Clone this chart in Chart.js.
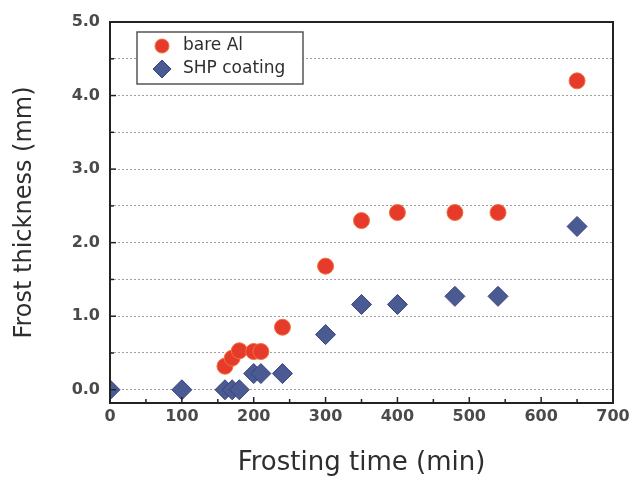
<!DOCTYPE html>
<html>
<head>
<meta charset="utf-8">
<script src="https://cdn.jsdelivr.net/npm/chart.js@4"></script>
<style>
  body { margin: 0; background: #fff; }
  canvas { display: block; }
</style>
</head>
<body>
<canvas id="frostChart" width="636" height="483"></canvas>
<script>
  // Frosting time (min) and frost thickness (mm) for each surface
  const bareTime = [160, 170, 180, 200, 210, 240, 300, 350, 400, 480, 540, 650];
  const bareThick = [0.32, 0.43, 0.53, 0.52, 0.52, 0.85, 1.68, 2.30, 2.41, 2.41, 2.41, 4.20];

  const shpTime = [0, 100, 160, 170, 180, 200, 210, 240, 300, 350, 400, 480, 540, 650];
  const shpThick = [0, 0, 0, 0, 0, 0.22, 0.22, 0.22, 0.75, 1.16, 1.16, 1.27, 1.27, 2.22];

  const xTickLabels = ['0', '100', '200', '300', '400', '500', '600', '700'];
  const yTickLabels = ['0.0', '1.0', '2.0', '3.0', '4.0', '5.0'];

  const toPoints = (xs, ys) => xs.map((x, i) => ({ x: x, y: ys[i] }));

  const FONT = 'DejaVu Sans';

  // keep markers inside the plot box
  const clipPlugin = {
    id: 'clipPlot',
    beforeDatasetsDraw(chart) {
      const { ctx, chartArea: a } = chart;
      ctx.save();
      ctx.beginPath();
      ctx.rect(a.left, a.top, a.right - a.left, a.bottom - a.top);
      ctx.clip();
    },
    afterDatasetsDraw(chart) {
      chart.ctx.restore();
    }
  };

  // box around the plot plus inward ticks, Origin style
  const framePlugin = {
    id: 'frame',
    afterDraw(chart) {
      const { ctx, chartArea: a, scales } = chart;
      const x = scales.x, y = scales.y;
      ctx.save();
      ctx.strokeStyle = '#222';
      ctx.lineWidth = 1.5;
      for (let v = 0; v <= 700; v += 50) {
        const px = x.getPixelForValue(v);
        const len = v % 100 === 0 ? 6 : 4;
        ctx.beginPath();
        ctx.moveTo(px, a.bottom);
        ctx.lineTo(px, a.bottom - len);
        ctx.stroke();
      }
      for (let v = 0; v <= 5; v += 0.5) {
        const py = y.getPixelForValue(v);
        const len = Number.isInteger(v) ? 6 : 4;
        ctx.beginPath();
        ctx.moveTo(a.left, py);
        ctx.lineTo(a.left + len, py);
        ctx.stroke();
      }
      ctx.lineWidth = 2;
      ctx.strokeRect(a.left, a.top, a.right - a.left, a.bottom - a.top);
      ctx.restore();
    }
  };

  // legend box in the upper left corner of the plot
  const boxLegend = {
    id: 'boxLegend',
    afterDatasetsDraw(chart) {
      const { ctx, chartArea: a } = chart;
      const bx = a.left + 27, by = a.top + 10;
      ctx.save();
      ctx.fillStyle = '#fff';
      ctx.fillRect(bx, by, 166, 52);
      ctx.strokeStyle = '#555';
      ctx.lineWidth = 1.5;
      ctx.strokeRect(bx, by, 166, 52);
      chart.data.datasets.forEach((ds, i) => {
        const cy = by + 14 + i * 23;
        const cx = bx + 25;
        ctx.fillStyle = ds.backgroundColor;
        ctx.strokeStyle = ds.borderColor;
        ctx.lineWidth = 1;
        ctx.beginPath();
        if (ds.pointStyle === 'rectRot') {
          const r = 9;
          ctx.moveTo(cx, cy - r);
          ctx.lineTo(cx + r, cy);
          ctx.lineTo(cx, cy + r);
          ctx.lineTo(cx - r, cy);
          ctx.closePath();
        } else {
          ctx.arc(cx, cy, 7, 0, Math.PI * 2);
        }
        ctx.fill();
        ctx.stroke();
        ctx.fillStyle = '#2e2e2e';
        ctx.font = '17px "' + FONT + '"';
        ctx.textBaseline = 'middle';
        ctx.fillText(ds.label, bx + 46, cy);
      });
      ctx.restore();
    }
  };

  const config = {
    type: 'scatter',
    data: {
      datasets: [{
        label: 'bare Al',
        data: toPoints(bareTime, bareThick),
        pointStyle: 'circle',
        pointRadius: 8,
        pointHoverRadius: 8,
        backgroundColor: '#e63b2b',
        borderColor: '#f0703e',
        borderWidth: 1
      },
      {
        label: 'SHP coating',
        data: toPoints(shpTime, shpThick),
        pointStyle: 'rectRot',
        pointRadius: 10,
        pointHoverRadius: 10,
        backgroundColor: '#4a5a93',
        borderColor: '#39447a',
        borderWidth: 1
      }]
    },
    options: {
      responsive: false,
      animation: false,
      devicePixelRatio: 1,
      layout: {
        padding: { top: 22, right: 23, left: 0, bottom: 0 }
      },
      plugins: {
        legend: { display: false },
        tooltip: { enabled: false }
      },
      scales: {
        x: {
          type: 'linear',
          min: 0,
          max: 700,
          afterFit(scale) { scale.height = 80; },
          afterBuildTicks(scale) {
            scale.ticks = xTickLabels.map(t => ({ value: Number(t) }));
          },
          ticks: {
            padding: 4,
            maxRotation: 0,
            color: '#4a4a4a',
            font: { family: FONT, size: 16, weight: 'bold' },
            callback: (v, i) => xTickLabels[i]
          },
          grid: { display: false, drawTicks: false },
          border: { display: false },
          title: {
            display: true,
            text: 'Frosting time (min)',
            color: '#2e2e2e',
            font: { family: FONT, size: 26 },
            padding: { top: 0, bottom: 4 }
          }
        },
        y: {
          type: 'linear',
          min: -0.18,
          max: 5,
          afterFit(scale) { scale.width = 110; },
          // one tick every 0.5 mm from 0 up; labels only on whole values
          afterBuildTicks(scale) {
            const t = [];
            for (let k = 0; k <= 10; k++) t.push({ value: k / 2 });
            scale.ticks = t;
          },
          ticks: {
            padding: 10,
            color: '#4a4a4a',
            font: { family: FONT, size: 16, weight: 'bold' },
            callback: (v) => (v % 1 === 0) ? yTickLabels[v] : ''
          },
          grid: {
            drawTicks: false,
            lineWidth: 1,
            color: (c) => c.tick.value > 4.99 ? 'rgba(0,0,0,0)' : '#a0a0a0'
          },
          border: { display: false, dash: [2, 2] },
          title: {
            display: true,
            text: 'Frost thickness (mm)',
            color: '#2e2e2e',
            font: { family: FONT, size: 24 },
            padding: { top: 10, bottom: 0 }
          }
        }
      }
    },
    plugins: [clipPlugin, framePlugin, boxLegend]
  };

  const frostChart = new Chart(
    document.getElementById('frostChart'),
    config
  );
</script>
</body>
</html>
